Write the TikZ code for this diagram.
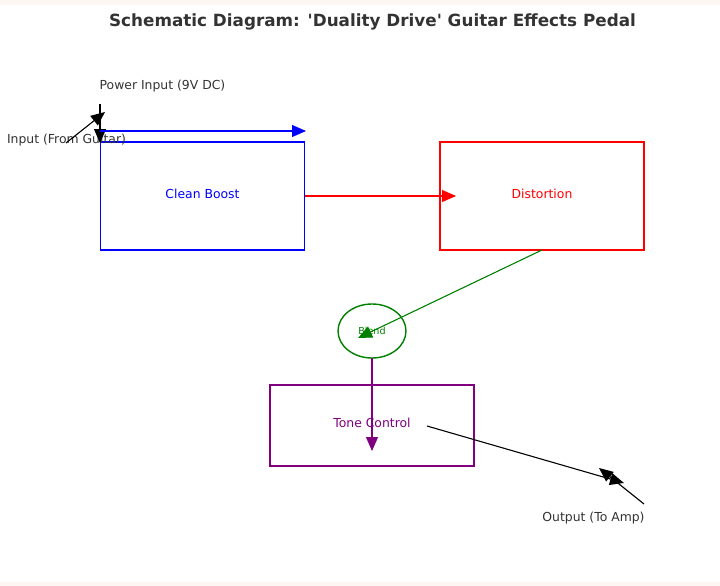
\documentclass[tikz,border=0pt]{standalone}
\usepackage{fontspec}
\setmainfont{DejaVu Sans}
\usetikzlibrary{arrows.meta,shapes.geometric}
\definecolor{txt}{HTML}{333333}
\definecolor{band}{HTML}{FDF6F2}
\definecolor{pgreen}{HTML}{008000}
\definecolor{ppurple}{HTML}{800080}
\tikzset{
  blockbox/.style={draw, line width=1.4pt, minimum width=204pt, inner sep=0pt},
  lbl/.style={font=\fontsize{12.4}{14}\selectfont, inner sep=0pt},
  arr/.style={line width=1.1pt, -{Triangle[length=14pt,width=12pt]}}
}
\begin{document}
\begin{tikzpicture}[x=1pt,y=-1pt]
\useasboundingbox (0,0) rectangle (720,586);
\fill[band] (0,0) rectangle (720,5);
\fill[band] (0,582) rectangle (720,586);
\node[font=\bfseries\fontsize{16.8}{19}\selectfont, text=txt, inner sep=0pt] (title) at (372.5,22) {Schematic Diagram: \textquotesingle Duality Drive\textquotesingle\ Guitar Effects Pedal};

\node[blockbox, draw=blue, minimum height=108pt] (clean) at (202.5,196) {};
\node[lbl, text=blue] (cleant) at (202.5,193.5) {Clean Boost};
\node[blockbox, draw=red, minimum height=108pt] (dist) at (542,196) {};
\node[lbl, text=red] (distt) at (542,193.5) {Distortion};
\node[draw=pgreen, line width=1.4pt, ellipse, minimum width=68pt, minimum height=54pt, inner sep=0pt] (blend) at (372,331) {};
\node[font=\fontsize{9.6}{11}\selectfont, text=pgreen, inner sep=0pt] (blendt) at (372,331) {Blend};
\node[blockbox, draw=ppurple, minimum height=81pt] (tone) at (372,425.5) {};
\node[lbl, text=ppurple] (tonet) at (372,422.5) {Tone Control};

\node[lbl, text=txt] (power) at (162.5,86) {Power Input (9V DC)};
\node[lbl, text=txt] (input) at (66.5,140) {Input (From Guitar)};
\node[lbl, text=txt] (output) at (593.5,518) {Output (To Amp)};

\coordinate (p0) at (100,104);
\coordinate (p1) at (100,143);
\coordinate (i0) at (66,143);
\coordinate (i1) at (105,112);
\coordinate (b0) at (100,131);
\coordinate (b1) at (306,131);
\coordinate (r0) at (305,196);
\coordinate (r1) at (456,196);
\coordinate (g0) at (542,250);
\coordinate (g1) at (358,338);
\coordinate (v0) at (372,358);
\coordinate (v1) at (372,451);
\coordinate (k0) at (427,426);
\coordinate (k1) at (624,483);
\coordinate (o0) at (644,504);
\coordinate (o1) at (599,468);

\draw[arr, black] (p0) -- (p1);
\draw[arr, black] (i0) -- (i1);
\draw[arr, blue] (b0) -- (b1);
\draw[arr, red] (r0) -- (r1);
\draw[arr, pgreen] (g0) -- (g1);
\draw[arr, ppurple] (v0) -- (v1);
\draw[arr, black] (k0) -- (k1);
\draw[arr, black] (o0) -- (o1);
\end{tikzpicture}
\end{document}
